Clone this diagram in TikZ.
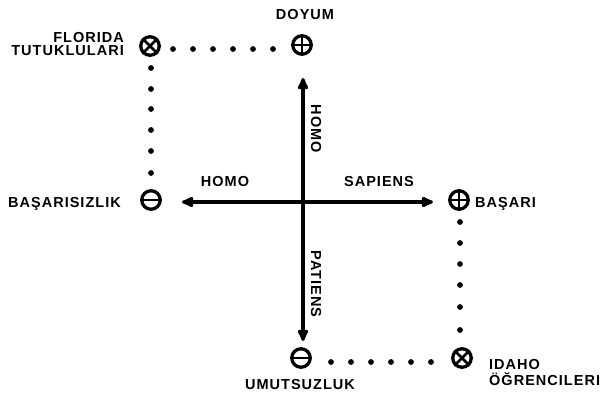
\documentclass[tikz,border=0pt]{standalone}
\usepackage{fontspec}
\setmainfont{Liberation Sans}[LetterSpace=7]
\usetikzlibrary{arrows.meta}
\tikzset{
  lab/.style={font=\bfseries\fontsize{14.5}{15}\selectfont, inner sep=0pt, text=black},
  sym/.style={circle, draw=black, line width=3.3pt, minimum size=18.5pt, inner sep=0pt},
  dotmark/.style={circle, fill=black, minimum size=5.8pt, inner sep=0pt},
  axis/.style={line width=3.2pt, -{Latex[length=15pt,width=13pt,round]}},
}
\newcommand{\plussym}[2]{%
  \node[sym] (#1) at #2 {};
  \draw[line width=2.7pt] (#1.north) -- (#1.south) (#1.west) -- (#1.east);}
\newcommand{\minussym}[2]{%
  \node[sym] (#1) at #2 {};
  \draw[line width=2.7pt] (#1.west) -- (#1.east);}
\newcommand{\timessym}[2]{%
  \node[sym] (#1) at #2 {};
  \draw[line width=2.7pt] (#1.north west) -- (#1.south east) (#1.north east) -- (#1.south west);}
\begin{document}
\begin{tikzpicture}[x=1pt,y=-1pt]
\useasboundingbox (0,0) rectangle (607,405);
% symbols
\timessym{fl}{(150,46)}
\plussym{doy}{(302,45)}
\minussym{bsz}{(151,200)}
\plussym{bas}{(459,200)}
\minussym{umu}{(301,358)}
\timessym{ida}{(462,358)}
% dotted connections
\foreach \i/\x in {1/173,2/193,3/213,4/233,5/253,6/273}
  \node[dotmark] (t\i) at (\x,49) {};
\foreach \i/\y in {1/68,2/89,3/109,4/130,5/151,6/173}
  \node[dotmark] (l\i) at (151,\y) {};
\foreach \i/\y in {1/222,2/243,3/264,4/285,5/307,6/330}
  \node[dotmark] (r\i) at (460,\y) {};
\foreach \i/\x in {1/331,2/351,3/371,4/391,5/411,6/431}
  \node[dotmark] (b\i) at (\x,362) {};
% axes
\coordinate (c) at (303,202);
\coordinate (tl) at (182,202);
\coordinate (tr) at (433,202);
\coordinate (tu) at (303,78);
\coordinate (td) at (303,341);
\draw[axis] (c) -- (tl);
\draw[axis] (c) -- (tr);
\draw[axis] (c) -- (tu);
\draw[axis] (c) -- (td);
% labels
\node[lab, anchor=base east] (flL1) at (124,42) {FLORIDA};
\node[lab, anchor=base east] (flL2) at (124,55) {TUTUKLULARI};
\node[lab] (doyL) at (305,15) {DOYUM};
\node[lab, anchor=east] (bszL) at (121,204) {BAŞARISIZLIK};
\node[lab, anchor=west] (basL) at (475,204) {BAŞARI};
\node[lab, anchor=base west] (idaL1) at (489,369) {IDAHO};
\node[lab, anchor=base west] (idaL2) at (489,385) {ÖĞRENCILERI};
\node[lab] (umuL) at (300,384) {UMUTSUZLUK};
\node[lab] (homoH) at (225,182) {HOMO};
\node[lab] (sapL) at (379,182) {SAPIENS};
\node[lab, rotate=-90] (homoV) at (316,129) {HOMO};
\node[lab, rotate=-90] (patL) at (316,284) {PATIENS};
\end{tikzpicture}
\end{document}
